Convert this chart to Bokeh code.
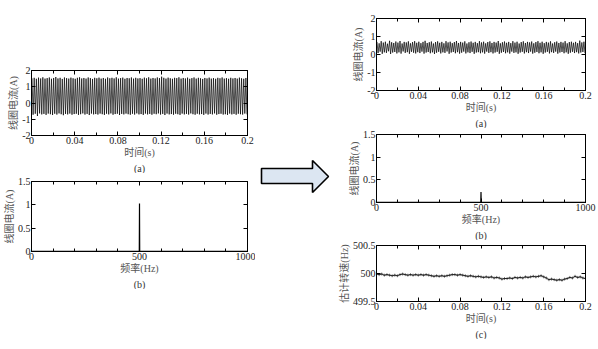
from bokeh.plotting import figure
from bokeh.layouts import row, column
from bokeh.models import Range1d, LinearAxis, FixedTicker, Title, Spacer
from bokeh.embed import file_html
from bokeh.resources import INLINE

FONT = "'Liberation Serif', 'Noto Sans CJK SC', serif"
LABEL_COLOR = "#555555"
TICK_COLOR = "#222222"

# ---------------- data ----------------
time_ticks = [0.0, 0.04, 0.08, 0.12, 0.16, 0.2]
time_tick_labels = ["0", "0.04", "0.08", "0.12", "0.16", "0.2"]
time_minor_ticks = [0.02, 0.06, 0.1, 0.14, 0.18]
freq_ticks = [0, 500, 1000]
freq_tick_labels = ["0", "500", "1000"]
freq_minor_ticks = [100, 200, 300, 400, 600, 700, 800, 900]
cur_ticks = [-2, -1, 0, 1, 2]
cur_tick_labels = ["-2", "-1", "0", "1", "2"]
amp_ticks = [0, 0.5, 1, 1.5]
amp_tick_labels = ["0", "0.5", "1", "1.5"]
speed_ticks = [499.5, 500, 500.5]
speed_tick_labels = ["499.5", "500", "500.5"]

cycle_period = 0.002  # 500 Hz current, one peak and one trough per cycle

left_peaks = [
    1.52, 1.55, 1.49, 1.56, 1.51, 1.58, 1.50, 1.53, 1.57, 1.49,
    1.54, 1.60, 1.51, 1.55, 1.48, 1.57, 1.53, 1.50, 1.56, 1.52,
    1.49, 1.55, 1.58, 1.51, 1.54, 1.50, 1.57, 1.53, 1.48, 1.55,
    1.52, 1.56, 1.50, 1.54, 1.49, 1.57, 1.52, 1.55, 1.51, 1.58,
    1.50, 1.53, 1.56, 1.49, 1.54, 1.52, 1.57, 1.50, 1.55, 1.51,
    1.53, 1.49, 1.56, 1.52, 1.58, 1.50, 1.54, 1.51, 1.57, 1.53,
    1.62, 1.55, 1.50, 1.56, 1.52, 1.49, 1.55, 1.53, 1.58, 1.50,
    1.54, 1.51, 1.56, 1.49, 1.53, 1.57, 1.50, 1.55, 1.52, 1.48,
    1.54, 1.51, 1.56, 1.50, 1.53, 1.49, 1.55, 1.52, 1.57, 1.50,
    1.53, 1.49, 1.55, 1.51, 1.54, 1.50, 1.56, 1.52, 1.49, 1.54,
]
left_troughs = [
    -0.72, -0.66, -0.80, -0.64, -0.70, -0.67, -0.73, -0.65, -0.69, -0.74,
    -0.66, -0.71, -0.64, -0.69, -0.75, -0.67, -0.70, -0.65, -0.72, -0.68,
    -0.66, -0.73, -0.69, -0.64, -0.71, -0.67, -0.74, -0.65, -0.70, -0.68,
    -0.71, -0.65, -0.69, -0.73, -0.66, -0.70, -0.64, -0.72, -0.68, -0.66,
    -0.74, -0.67, -0.70, -0.65, -0.69, -0.72, -0.66, -0.71, -0.64, -0.70,
    -0.68, -0.73, -0.65, -0.70, -0.67, -0.72, -0.66, -0.69, -0.64, -0.71,
    -0.67, -0.74, -0.65, -0.70, -0.68, -0.72, -0.66, -0.69, -0.73, -0.65,
    -0.70, -0.67, -0.71, -0.64, -0.69, -0.72, -0.66, -0.70, -0.68, -0.73,
    -0.65, -0.71, -0.67, -0.70, -0.64, -0.72, -0.68, -0.66, -0.71, -0.69,
    -0.73, -0.65, -0.70, -0.67, -0.72, -0.66, -0.69, -0.71, -0.65, -0.70,
]
right_peaks = [
    0.70, 0.62, 0.74, 0.66, 0.71, 0.60, 0.76, 0.68, 0.64, 0.72,
    0.66, 0.75, 0.61, 0.70, 0.67, 0.73, 0.62, 0.69, 0.74, 0.65,
    0.71, 0.63, 0.70, 0.76, 0.64, 0.68, 0.72, 0.61, 0.69, 0.73,
    0.65, 0.70, 0.62, 0.74, 0.67, 0.71, 0.63, 0.69, 0.75, 0.64,
    0.70, 0.66, 0.73, 0.61, 0.68, 0.72, 0.65, 0.70, 0.63, 0.74,
    0.67, 0.71, 0.62, 0.69, 0.73, 0.64, 0.70, 0.66, 0.75, 0.62,
    0.68, 0.72, 0.65, 0.70, 0.63, 0.74, 0.66, 0.71, 0.61, 0.69,
    0.73, 0.64, 0.70, 0.67, 0.72, 0.62, 0.69, 0.74, 0.65, 0.71,
    0.63, 0.70, 0.66, 0.73, 0.61, 0.68, 0.72, 0.64, 0.70, 0.66,
    0.74, 0.62, 0.69, 0.71, 0.65, 0.70, 0.63, 0.77, 0.67, 0.71,
]
right_troughs = [
    0.08, 0.16, 0.04, 0.12, 0.09, 0.18, 0.03, 0.11, 0.14, 0.06,
    0.12, 0.05, 0.17, 0.09, 0.13, 0.04, 0.15, 0.10, 0.06, 0.13,
    0.08, 0.16, 0.05, 0.11, 0.14, 0.07, 0.12, 0.03, 0.10, 0.15,
    0.06, 0.12, 0.09, 0.17, 0.04, 0.11, 0.14, 0.07, 0.13, 0.05,
    0.10, 0.16, 0.06, 0.12, 0.08, 0.15, 0.04, 0.11, 0.13, 0.07,
    0.12, 0.05, 0.16, 0.09, 0.13, 0.06, 0.11, 0.15, 0.04, 0.10,
    0.14, 0.07, 0.12, 0.05, 0.16, 0.09, 0.12, 0.04, 0.11, 0.15,
    0.06, 0.13, 0.08, 0.16, 0.05, 0.10, 0.14, 0.07, 0.12, 0.04,
    0.11, 0.15, 0.06, 0.13, 0.09, 0.16, 0.05, 0.11, 0.14, 0.07,
    0.12, 0.04, 0.10, 0.15, 0.08, 0.13, 0.06, 0.11, 0.14, 0.07,
]

spec_freq = [0, 490, 497, 499, 500, 501, 503, 510, 1000]
left_spec_amp = [0.004, 0.005, 0.008, 0.015, 1.03, 0.015, 0.008, 0.005, 0.004]
right_spec_amp = [0.004, 0.005, 0.007, 0.012, 0.23, 0.012, 0.007, 0.005, 0.004]

speed_time_step = 0.0025
speed_est = [
    499.99, 499.98, 499.99, 499.97, 499.98, 499.97, 499.96, 499.97, 499.96, 499.98,
    499.99, 499.98, 499.97, 499.98, 499.97, 499.98, 499.97, 499.98, 499.97, 499.98,
    499.97, 499.96, 499.95, 499.96, 499.95, 499.96, 499.95, 499.96, 499.97, 499.98,
    499.98, 499.97, 499.98, 499.97, 499.96, 499.95, 499.96, 499.95, 499.94, 499.95,
    499.94, 499.93, 499.94, 499.93, 499.94, 499.92, 499.93, 499.92, 499.90, 499.91,
    499.91, 499.92, 499.91, 499.93, 499.92, 499.93, 499.92, 499.94, 499.93, 499.94,
    499.95, 499.94, 499.95, 499.96, 499.94, 499.92, 499.89, 499.90, 499.89, 499.88,
    499.89, 499.88, 499.90, 499.91, 499.93, 499.92, 499.95, 499.93, 499.94, 499.92,
    499.91,
]

# arrow outline (screen pixels inside the arrow panel)
arrow_x = [6, 57, 57, 73, 57, 57, 6]
arrow_y = [168, 168, 160, 176, 192, 183, 183]


# ---------------- helpers ----------------
def zigzag(peaks, troughs):
    xs, ys = [], []
    for k in range(len(peaks)):
        xs += [cycle_period * k + cycle_period * 0.25, cycle_period * k + cycle_period * 0.75]
        ys += [peaks[k], troughs[k]]
    return xs, ys


def make_fig(w, h, borders, xr, yr, xt, xl, xm, yt, yl, ym, xlabel, ylabel, caption):
    p = figure(width=w, height=h, x_range=Range1d(*xr), y_range=Range1d(*yr),
               output_backend="svg", toolbar_location=None,
               min_border_left=borders[0], min_border_right=borders[1],
               min_border_top=borders[2], min_border_bottom=borders[3])
    p.grid.visible = False
    p.outline_line_color = "black"
    p.outline_line_width = 1
    p.background_fill_color = "white"
    p.border_fill_color = "white"

    def style_axis(ax, ticks, labels, minor, show):
        ax.ticker = FixedTicker(ticks=ticks, minor_ticks=minor)
        ax.major_tick_in = 4
        ax.major_tick_out = 0
        ax.minor_tick_in = 3
        ax.minor_tick_out = 0
        ax.axis_line_color = "black"
        ax.major_tick_line_color = "black"
        ax.minor_tick_line_color = "black"
        ax.major_label_text_font = FONT
        if show:
            ax.major_label_overrides = dict(zip(ticks, labels))
            ax.major_label_text_color = TICK_COLOR
            ax.major_label_text_font_size = "10px"
            ax.major_label_standoff = 1
        else:
            ax.major_label_text_color = None
            ax.major_label_text_font_size = "1px"
            ax.major_label_standoff = 0

    xa = p.xaxis[0]
    ya = p.yaxis[0]
    style_axis(xa, xt, xl, xm, True)
    style_axis(ya, yt, yl, ym, True)
    for ax, lab in ((xa, xlabel), (ya, ylabel)):
        ax.axis_label = lab
        ax.axis_label_text_font = FONT
        ax.axis_label_text_font_size = "10px"
        ax.axis_label_text_font_style = "normal"
        ax.axis_label_text_color = LABEL_COLOR
        ax.axis_label_standoff = 0
    top = LinearAxis()
    style_axis(top, xt, xl, xm, False)
    p.add_layout(top, "above")
    right = LinearAxis()
    style_axis(right, yt, yl, ym, False)
    p.add_layout(right, "right")
    p.add_layout(Title(text=caption, align="center", text_font=FONT,
                       text_font_size="10px", text_font_style="normal",
                       text_color="#333333", standoff=0), "below")
    return p


# ---------------- left column ----------------
lx, ly = zigzag(left_peaks, left_troughs)
la = make_fig(255, 121, (30, 8, 18, 26), (0, 0.2), (-2, 2),
              time_ticks, time_tick_labels, time_minor_ticks,
              cur_ticks, cur_tick_labels, [],
              "时间(s)", "线圈电流(A)", "(a)")
la.line(lx, ly, line_color="black", line_width=0.7)

lb = make_fig(255, 116, (30, 8, 8, 32), (0, 1000), (0, 1.5),
              freq_ticks, freq_tick_labels, freq_minor_ticks,
              amp_ticks, amp_tick_labels, [],
              "频率(Hz)", "线圈电流(A)", "(b)")
lb.line(spec_freq, left_spec_amp, line_color="black", line_width=1.2)

left_col = column(Spacer(width=255, height=52), la, lb, Spacer(width=255, height=60))

# ---------------- arrow ----------------
ar = figure(width=80, height=349, x_range=Range1d(0, 80), y_range=Range1d(349, 0),
            output_backend="svg", toolbar_location=None,
            x_axis_location=None, y_axis_location=None, min_border=0)
ar.grid.visible = False
ar.outline_line_color = None
ar.patch(arrow_x, arrow_y, fill_color="#dce6f2", line_color="black", line_width=1.6)

# ---------------- right column ----------------
rx, ry = zigzag(right_peaks, right_troughs)
ra = make_fig(263, 128, (30, 13, 18, 30), (0, 0.2), (-2, 2),
              time_ticks, time_tick_labels, time_minor_ticks,
              cur_ticks, cur_tick_labels, [],
              "时间(s)", "线圈电流(A)", "(a)")
ra.line(rx, ry, line_color="black", line_width=0.7)

rb = make_fig(263, 112, (30, 13, 6, 30), (0, 1000), (0, 1.5),
              freq_ticks, freq_tick_labels, freq_minor_ticks,
              amp_ticks, amp_tick_labels, [],
              "频率(Hz)", "线圈电流(A)", "(b)")
rb.line(spec_freq, right_spec_amp, line_color="black", line_width=1.2)

speed_t = [i * speed_time_step for i in range(len(speed_est))]
rc = make_fig(263, 99, (36, 9, 5, 32), (0, 0.2), (499.5, 500.5),
              time_ticks, time_tick_labels, time_minor_ticks,
              speed_ticks, speed_tick_labels, [],
              "时间(s)", "估计转速(Hz)", "(c)")
rc.line(speed_t, speed_est, line_color="black", line_width=0.7)
rc.scatter(speed_t, speed_est, marker="cross", size=3, line_color="black", line_width=0.5)

right_col = column(ra, rb, rc, Spacer(width=263, height=10))

layout = row(left_col, ar, right_col)
open("out.html", "w").write(file_html(layout, INLINE))
